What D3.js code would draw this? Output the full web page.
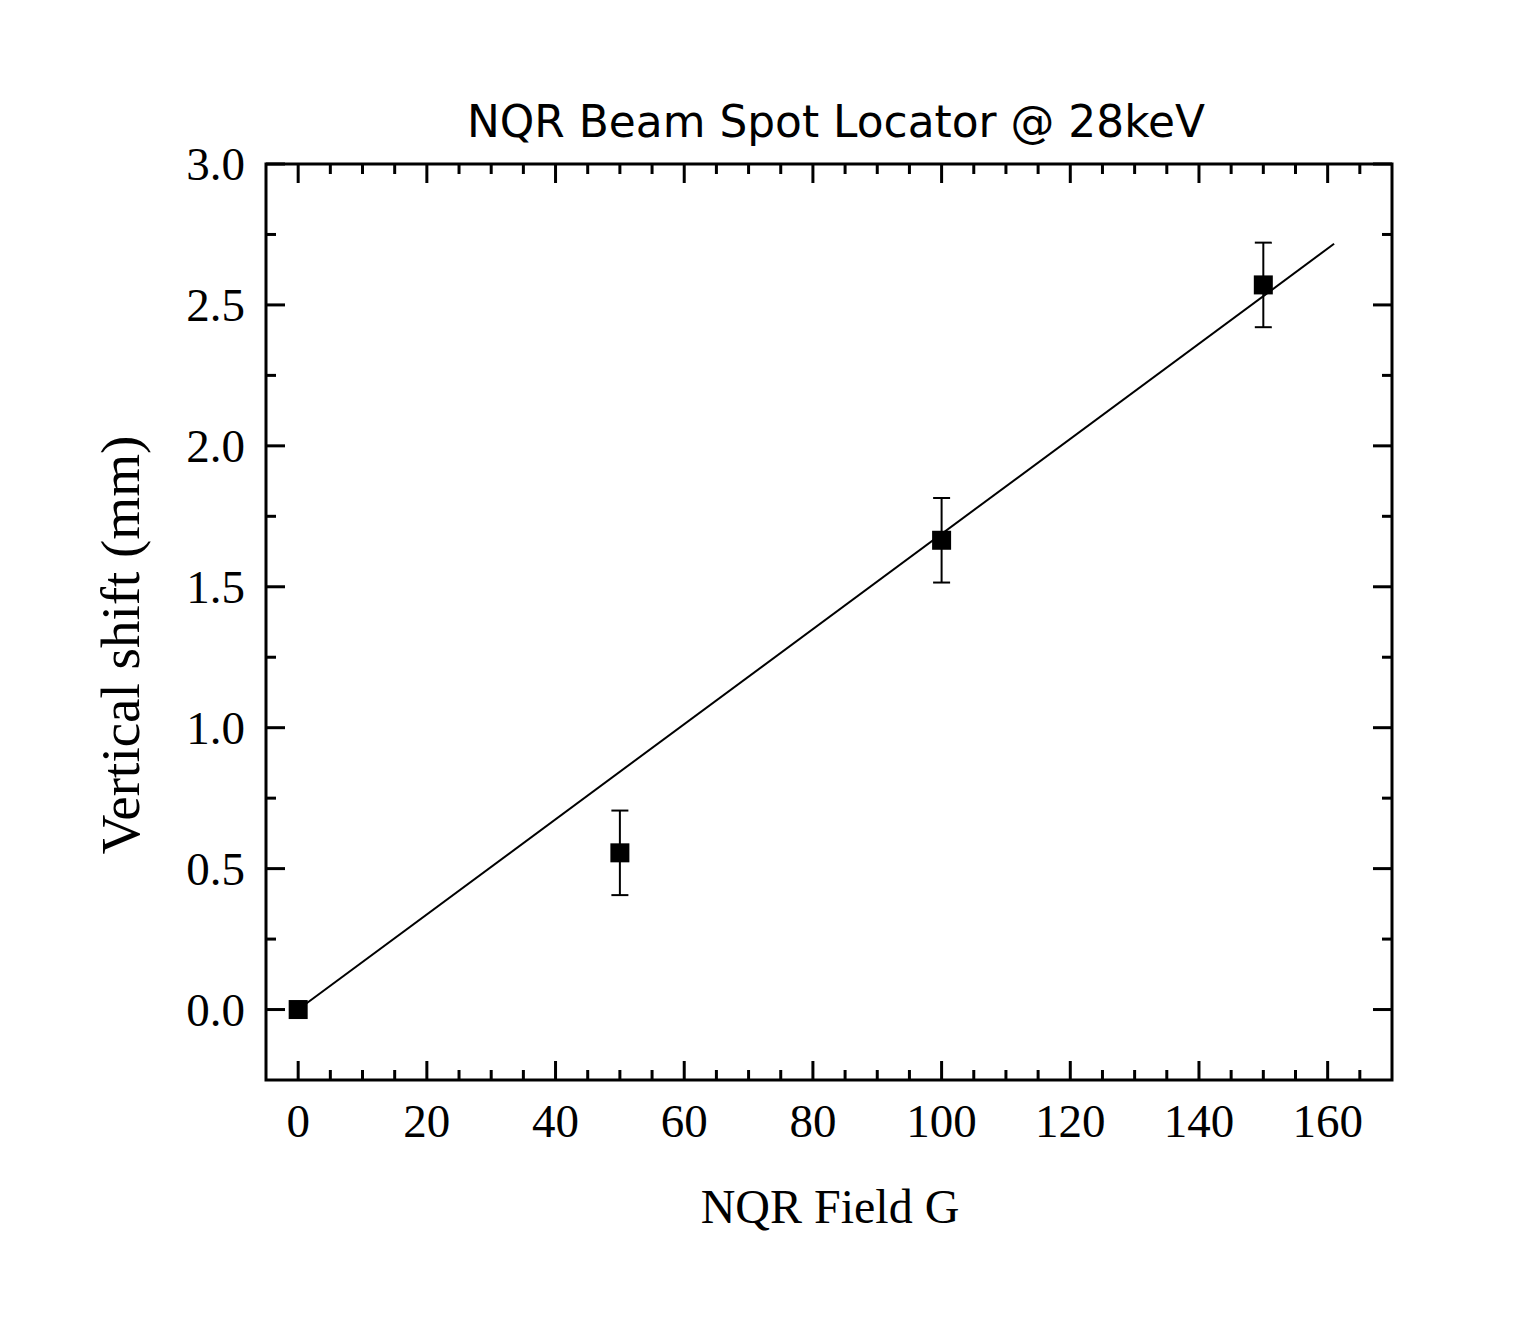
<!DOCTYPE html>
<html><head><meta charset="utf-8">
<script src="https://cdn.jsdelivr.net/npm/d3@7"></script>
<style>body{margin:0;background:#fff}</style>
</head><body>
<svg id="chart" width="1537" height="1321"></svg>
<script>
const fieldG = [0, 50, 100, 150];
const shiftMM = [0, 0.556, 1.665, 2.571];
const errMM = [0, 0.15, 0.15, 0.15];
const fitX = [0, 161];
const fitY = [0, 2.717];
const xTicks = [0, 20, 40, 60, 80, 100, 120, 140, 160];
const yTicks = [0.0, 0.5, 1.0, 1.5, 2.0, 2.5, 3.0];
const title = "NQR Beam Spot Locator @ 28keV";
const xLabel = "NQR Field G";
const yLabel = "Vertical shift (mm)";

const svg = d3.select("#chart");
const L = 266, R = 1392, T = 164, B = 1080;
const x = d3.scaleLinear().domain([-5, 170]).range([L, R]);
const y = d3.scaleLinear().domain([-0.25, 3.0]).range([B, T]);

const serif = "'Liberation Serif','Times New Roman',serif";

// frame
svg.append("rect").attr("x", L).attr("y", T).attr("width", R - L).attr("height", B - T)
  .attr("fill", "none").attr("stroke", "#000").attr("stroke-width", 3);

// ticks
const xMinor = d3.range(-5, 171, 5).filter(v => v % 20 !== 0 && v > -5 && v < 170);
const yMinor = d3.range(-0.25, 3.0001, 0.25).map(v => +v.toFixed(2)).filter(v => Math.abs((v * 2) % 1) > 0.01 && v > -0.25 && v < 3);
const tk = svg.append("g").attr("stroke", "#000").attr("stroke-width", 3);
function xt(vals, len) {
  vals.forEach(v => {
    tk.append("line").attr("x1", x(v)).attr("x2", x(v)).attr("y1", B).attr("y2", B - len);
    tk.append("line").attr("x1", x(v)).attr("x2", x(v)).attr("y1", T).attr("y2", T + len);
  });
}
function yt(vals, len) {
  vals.forEach(v => {
    tk.append("line").attr("y1", y(v)).attr("y2", y(v)).attr("x1", L).attr("x2", L + len);
    tk.append("line").attr("y1", y(v)).attr("y2", y(v)).attr("x1", R).attr("x2", R - len);
  });
}
xt(xTicks, 19); xt(xMinor, 10);
yt(yTicks, 19); yt(yMinor, 10);

// tick labels
svg.append("g").selectAll("text").data(xTicks).join("text")
  .attr("x", d => x(d)).attr("y", 1137).attr("text-anchor", "middle")
  .attr("font-family", serif).attr("font-size", 47).text(d => d);
svg.append("g").selectAll("text").data(yTicks).join("text")
  .attr("x", 245).attr("y", d => y(d) + 16).attr("text-anchor", "end")
  .attr("font-family", serif).attr("font-size", 47).text(d => d.toFixed(1));

// fit line
svg.append("line").attr("x1", x(fitX[0])).attr("y1", y(fitY[0]))
  .attr("x2", x(fitX[1])).attr("y2", y(fitY[1])).attr("stroke", "#000").attr("stroke-width", 2);

// error bars
const data = fieldG.map((g, i) => ({g, v: shiftMM[i], e: errMM[i]}));
const eb = svg.append("g").attr("stroke", "#000").attr("stroke-width", 2);
data.filter(d => d.e > 0).forEach(d => {
  eb.append("line").attr("x1", x(d.g)).attr("x2", x(d.g)).attr("y1", y(d.v - d.e)).attr("y2", y(d.v + d.e));
  [d.v - d.e, d.v + d.e].forEach(v => eb.append("line").attr("x1", x(d.g) - 8.5).attr("x2", x(d.g) + 8.5).attr("y1", y(v)).attr("y2", y(v)));
});
svg.append("g").selectAll("rect").data(data).join("rect")
  .attr("x", d => x(d.g) - 9.5).attr("y", d => y(d.v) - 9.5).attr("width", 19).attr("height", 19).attr("fill", "#000");

// title
svg.append("text").attr("x", 836).attr("y", 137).attr("text-anchor", "middle")
  .attr("font-family", "'DejaVu Sans',Verdana,sans-serif").attr("font-size", 45)
  .attr("textLength", 738).attr("lengthAdjust", "spacingAndGlyphs").text(title);
// axis labels
svg.append("text").attr("x", 830).attr("y", 1223).attr("text-anchor", "middle")
  .attr("font-family", serif).attr("font-size", 48).text(xLabel);
svg.append("text").attr("transform", "translate(139,645) rotate(-90)").attr("text-anchor", "middle")
  .attr("font-family", serif).attr("font-size", 55).text(yLabel);
</script>
</body></html>
